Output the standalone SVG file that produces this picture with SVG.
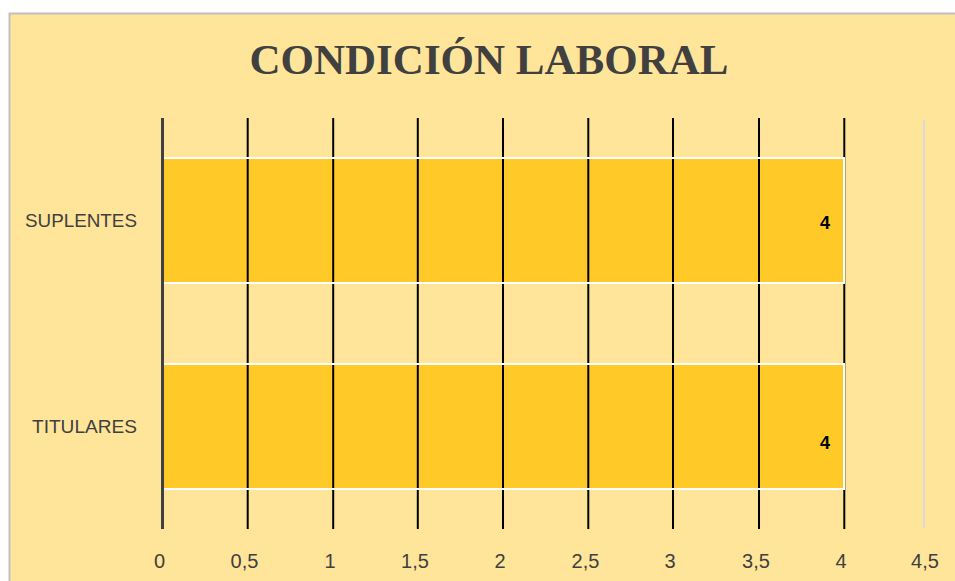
<svg xmlns="http://www.w3.org/2000/svg" width="955" height="581" viewBox="0 0 955 581">
<style>
.grid{stroke:#000;stroke-width:2}
.bar{fill:#FFCA28}
.barline{fill:none;stroke:#fff;stroke-width:2}
.cat{font-family:"Liberation Sans",Arial,sans-serif;font-size:18px;fill:#404040;text-anchor:end}
.tick{font-family:"Liberation Sans",Arial,sans-serif;font-size:20px;fill:#404040;text-anchor:middle}
.val{font-family:"Liberation Sans",Arial,sans-serif;font-size:18px;font-weight:bold;fill:#000;text-anchor:middle}
</style>
<rect x="0" y="0" width="955" height="581" fill="#fff"/>
<rect x="9.5" y="13.5" width="960" height="600" fill="#FFE599" stroke="#BFBFBF" stroke-width="2"/>
<text x="489" y="74" font-family="Liberation Serif,'Times New Roman',serif" font-size="43" font-weight="bold" fill="#404040" text-anchor="middle">CONDICIÓN LABORAL</text>
<g id="bar-suplentes"><rect class="bar" x="163" y="158" width="681" height="125"/></g>
<g id="bar-titulares"><rect class="bar" x="163" y="364" width="681" height="125"/></g>
<g id="gridlines">
<line class="grid" x1="247.7" y1="118" x2="247.7" y2="529"/>
<line class="grid" x1="333.2" y1="118" x2="333.2" y2="529" stroke-width="3"/>
<line class="grid" x1="417.8" y1="118" x2="417.8" y2="529"/>
<line class="grid" x1="503" y1="118" x2="503" y2="529"/>
<line class="grid" x1="588.3" y1="118" x2="588.3" y2="529"/>
<line class="grid" x1="673" y1="118" x2="673" y2="529"/>
<line class="grid" x1="759" y1="118" x2="759" y2="529"/>
<line class="grid" x1="844.3" y1="118" x2="844.3" y2="529"/>
<line x1="924" y1="120" x2="924" y2="528" stroke="#D9D9D9" stroke-width="2"/>
</g>
<g id="bar-outlines">
<rect class="barline" x="163" y="158" width="681" height="125"/>
<rect class="barline" x="163" y="364" width="681" height="125"/>
</g>
<line x1="162.5" y1="118" x2="162.5" y2="529" stroke="#404040" stroke-width="3"/>
<text class="cat" x="137" y="227" textLength="112" lengthAdjust="spacingAndGlyphs">SUPLENTES</text>
<text class="cat" x="137" y="433" textLength="105" lengthAdjust="spacingAndGlyphs">TITULARES</text>
<text class="val" x="825" y="229">4</text>
<text class="val" x="825" y="449">4</text>
<g id="ticks">
<text class="tick" x="159.5" y="568">0</text>
<text class="tick" x="244.5" y="568">0,5</text>
<text class="tick" x="330" y="568">1</text>
<text class="tick" x="415" y="568">1,5</text>
<text class="tick" x="500" y="568">2</text>
<text class="tick" x="585.5" y="568">2,5</text>
<text class="tick" x="670" y="568">3</text>
<text class="tick" x="756" y="568">3,5</text>
<text class="tick" x="841" y="568">4</text>
<text class="tick" x="925" y="568">4,5</text>
</g>
</svg>
